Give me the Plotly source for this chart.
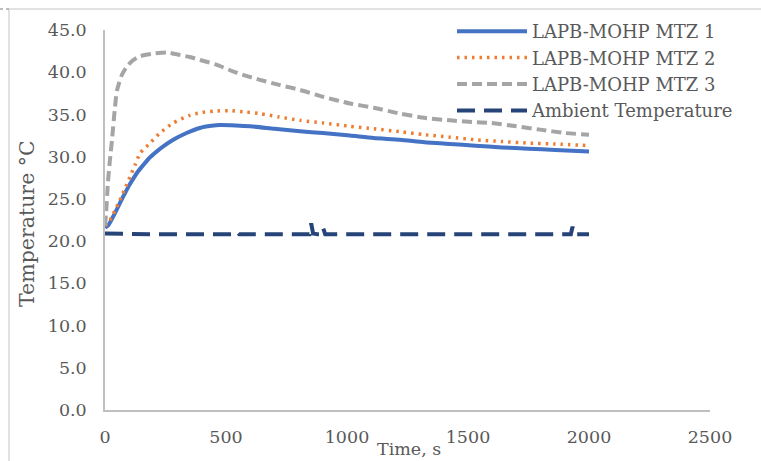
import plotly.graph_objects as go

# ---- data ----
t_mtz1 = [0, 14, 30, 48, 65, 83, 100, 117, 138, 158, 185, 213, 245, 282, 337, 392, 440, 475,
          540, 600, 700, 806, 900, 1012, 1110, 1219, 1320, 1426, 1530, 1640, 1750, 1860, 2000]
T_mtz1 = [21.6, 21.9, 22.7, 23.7, 24.7, 25.7, 26.6, 27.4, 28.3, 29.0, 29.9, 30.6, 31.3, 32.0,
          32.8, 33.4, 33.65, 33.75, 33.7, 33.6, 33.3, 33.0, 32.8, 32.5, 32.2, 32.0, 31.7, 31.5,
          31.3, 31.1, 30.95, 30.8, 30.6]

t_mtz2 = [0, 21, 41, 62, 82, 103, 124, 145, 186, 227, 282, 351, 393, 450, 517, 580, 640, 720,
          806, 900, 1012, 1110, 1219, 1320, 1426, 1530, 1640, 1750, 1860, 2000]
T_mtz2 = [21.8, 22.5, 23.6, 24.9, 26.2, 27.6, 29.0, 30.4, 31.6, 32.8, 34.0, 34.9, 35.2, 35.4,
          35.45, 35.3, 35.1, 34.7, 34.3, 34.0, 33.6, 33.3, 32.96, 32.6, 32.3, 32.0, 31.8, 31.6,
          31.5, 31.3]

t_mtz3 = [0, 5, 12, 20, 29, 40, 50, 70, 91, 115, 145, 200, 256, 300, 350, 393, 460, 529, 580,
          640, 720, 806, 900, 1012, 1110, 1219, 1320, 1426, 1520, 1591, 1700, 1798, 1900, 2000]
T_mtz3 = [21.8, 23.5, 26.9, 29.5, 32.0, 35.5, 37.9, 39.7, 40.7, 41.4, 41.9, 42.2, 42.35, 42.1,
          41.8, 41.45, 40.9, 40.1, 39.6, 39.1, 38.5, 37.9, 37.1, 36.3, 35.8, 35.1, 34.6, 34.3,
          34.1, 34.0, 33.6, 33.2, 32.8, 32.6]

t_amb = [0, 100, 200, 300, 400, 500, 535, 545, 555, 600, 700, 800, 845, 852, 860, 880, 895, 902,
         910, 1000, 1100, 1200, 1300, 1400, 1500, 1600, 1700, 1800, 1900, 1925, 1932, 1940, 2000]
T_amb = [20.9, 20.8, 20.8, 20.8, 20.8, 20.8, 20.8, 21.1, 20.8, 20.8, 20.8, 20.8, 20.8, 22.1,
         20.9, 20.8, 20.8, 21.5, 20.8, 20.8, 20.8, 20.8, 20.8, 20.8, 20.8, 20.8, 20.8, 20.8,
         20.8, 20.8, 21.7, 20.8, 20.8]

names = ["LAPB-MOHP MTZ 1", "LAPB-MOHP MTZ 2", "LAPB-MOHP MTZ 3", "Ambient Temperature"]
x_ticks = [0, 500, 1000, 1500, 2000, 2500]
y_ticks = [0, 5, 10, 15, 20, 25, 30, 35, 40, 45]

FONT = "DejaVu Serif"
TXT = "#595959"

fig = go.Figure()
fig.add_trace(go.Scatter(x=t_mtz1, y=T_mtz1, name=names[0], mode="lines",
                         line=dict(color="#4472C4", width=4, shape="spline", smoothing=0.6)))
fig.add_trace(go.Scatter(x=t_mtz2, y=T_mtz2, name=names[1], mode="lines",
                         line=dict(color="#ED7D31", width=3.5, dash="2.5px,5px",
                                   shape="spline", smoothing=0.6)))
fig.add_trace(go.Scatter(x=t_mtz3, y=T_mtz3, name=names[2], mode="lines",
                         line=dict(color="#A5A5A5", width=4, dash="10px,5px",
                                   shape="spline", smoothing=0.6)))
fig.add_trace(go.Scatter(x=t_amb, y=T_amb, name=names[3], mode="lines",
                         line=dict(color="#264478", width=4, dash="18px,9px")))

L, R, T, B = 105, 51, 30, 51
W, H = 761, 461
pw, ph = W - L - R, H - T - B

def px(xpix):
    return (xpix - L) / pw

def py(ypix):
    return (H - B - ypix) / ph

fig.update_layout(
    width=W, height=H,
    margin=dict(l=L, r=R, t=T, b=B, pad=0),
    paper_bgcolor="white", plot_bgcolor="white",
    font=dict(family=FONT, color=TXT, size=17),
    showlegend=True,
    legend=dict(x=px(452), y=py(13), xanchor="left", yanchor="top",
                bgcolor="rgba(0,0,0,0)", font=dict(family=FONT, size=18, color=TXT),
                itemwidth=70, tracegroupgap=0),
    xaxis=dict(range=[0, 2500], tickvals=x_ticks, ticktext=[str(v) for v in x_ticks],
               showgrid=False, zeroline=False, showline=True, linecolor="#BFBFBF",
               linewidth=1.5, ticks="", ticklabelstandoff=10,
               tickfont=dict(family=FONT, size=17.5, color=TXT)),
    yaxis=dict(range=[0, 45], tickvals=y_ticks, ticktext=[f"{v:.1f}" for v in y_ticks],
               showgrid=False, zeroline=False, showline=True, linecolor="#BFBFBF",
               linewidth=1.5, ticks="", ticklabelstandoff=13,
               tickfont=dict(family=FONT, size=17.5, color=TXT)),
    annotations=[
        dict(text="Time, s", xref="paper", yref="paper", x=px(409), y=py(449),
             xanchor="center", yanchor="middle", showarrow=False,
             font=dict(family=FONT, size=17.5, color=TXT)),
        dict(text="Temperature °C", xref="paper", yref="paper", x=px(27), y=py(224),
             xanchor="center", yanchor="middle", showarrow=False, textangle=-90,
             font=dict(family=FONT, size=20.5, color=TXT)),
    ],
    shapes=[
        dict(type="line", xref="paper", yref="paper", x0=px(9), x1=px(770), y0=py(9), y1=py(9),
             line=dict(color="#D9D9D9", width=1.5)),
        dict(type="line", xref="paper", yref="paper", x0=px(9), x1=px(9), y0=py(9), y1=py(470),
             line=dict(color="#D9D9D9", width=1.5)),
        dict(type="line", xref="paper", yref="paper", x0=px(0), x1=px(9), y0=py(9), y1=py(9),
             line=dict(color="#7F7F7F", width=1, dash="dot")),
    ],
)

fig.write_html("out.html")
